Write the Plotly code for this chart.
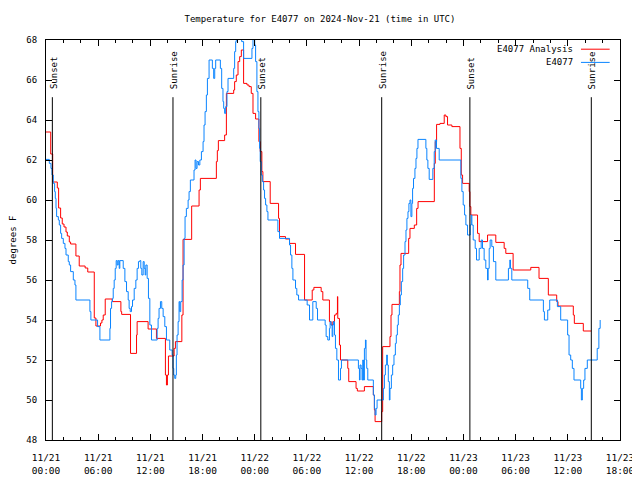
import plotly.graph_objects as go

# ---------------- data ----------------
# hours since 2024-11-21 00:00 UTC, temperatures in degrees F
red_hours = [
    0.0, 0.54, 0.77, 1.3, 1.45, 1.68, 1.87, 2.07, 2.3, 2.45,
    2.68, 2.83, 3.44, 3.82, 4.5, 4.8, 5.55, 5.74, 6.27, 6.43,
    6.58, 6.81, 7.61, 8.61, 8.7, 9.72, 10.41, 10.48, 11.74, 12.7,
    13.73, 13.85, 13.96, 14.08, 14.73, 14.88, 15.62, 15.76, 16.75, 17.6,
    17.75, 19.59, 19.7, 19.82, 20.54, 20.74, 21.58, 21.69, 21.88, 22.08,
    22.27, 22.46, 22.72, 23.11, 23.34, 23.6, 23.8, 24.1, 24.48, 24.63,
    24.82, 24.94, 25.78, 26.74, 26.85, 27.54, 28.0, 28.69, 29.73, 30.61,
    30.8, 31.64, 31.83, 32.59, 32.78, 32.98, 33.17, 33.36, 33.51, 33.55,
    33.74, 33.86, 34.7, 34.81, 35.65, 35.8, 36.61, 37.64, 37.76, 37.84,
    38.6, 38.71, 39.55, 39.67, 39.78, 40.63, 40.7, 40.82, 41.7, 41.85,
    42.35, 42.62, 42.78, 44.65, 44.76, 44.91, 45.3, 45.79, 45.98, 46.17,
    46.67, 47.6, 47.75, 47.9, 48.66, 48.74, 48.85, 49.62, 49.81, 50.77,
    51.72, 52.68, 52.87, 53.71, 55.74, 56.69, 57.76, 58.72, 58.87, 60.63,
    60.75, 61.78, 62.7,
]
red_temps = [
    63.4, 62.3, 60.9, 60.6, 59.6, 59.1, 58.8, 58.65, 58.4, 58.2,
    57.9, 57.8, 57.2, 56.7, 56.6, 56.4, 54.1, 53.7, 53.85, 54.0,
    54.25, 55.05, 54.92, 54.42, 54.28, 52.33, 53.25, 53.92, 53.55, 53.08,
    51.25, 50.75, 51.25, 52.2, 52.58, 52.92, 54.25, 58.03, 59.7, 60.5,
    61.08, 61.92, 62.47, 62.97, 63.25, 65.33, 65.5, 65.92, 66.25, 66.92,
    67.17, 67.5, 65.83, 65.75, 65.67, 65.33, 64.33, 64.05, 62.92, 62.42,
    61.42, 60.92, 59.83, 59.08, 58.17, 58.05, 57.83, 57.28, 55.0, 55.5,
    55.63, 55.42, 55.0, 53.92, 53.75, 53.92, 54.25, 54.33, 55.17, 54.08,
    52.75, 52.0, 51.58, 50.92, 50.58, 50.45, 50.67, 50.25, 49.5, 48.92,
    49.42, 52.67, 53.17, 54.25, 54.78, 55.42, 56.75, 57.33, 58.08, 58.58,
    58.75, 59.58, 59.92, 61.83, 62.92, 63.78, 63.83, 64.25, 64.17, 63.75,
    63.67, 62.58, 61.25, 60.83, 60.42, 59.67, 59.25, 58.33, 57.92, 58.25,
    57.88, 57.58, 57.33, 56.5, 56.63, 56.08, 55.25, 54.92, 54.7, 54.25,
    53.83, 53.45, 53.45,
]

blue_hours = [
    0.0, 0.38, 0.57, 0.69, 0.84, 0.99, 1.07, 1.15, 1.22, 1.42,
    1.53, 1.68, 1.8, 1.99, 2.18, 2.3, 2.56, 2.68, 2.83, 3.14,
    3.33, 3.44, 5.05, 5.16, 5.93, 6.2, 7.35, 7.42, 7.54, 7.65,
    7.73, 7.84, 7.96, 8.07, 8.19, 8.3, 8.42, 8.49, 8.88, 9.07,
    9.26, 9.45, 9.56, 9.68, 9.83, 9.95, 10.14, 10.33, 10.48, 10.63,
    10.79, 10.9, 11.02, 11.17, 11.29, 11.4, 11.48, 11.63, 11.78, 11.94,
    12.13, 12.78, 12.89, 13.0, 13.16, 13.31, 13.47, 13.66, 13.85, 14.23,
    14.5, 14.61, 14.69, 14.8, 14.92, 14.99, 15.07, 15.19, 15.3, 15.38,
    15.49, 15.65, 15.76, 15.88, 15.99, 16.14, 16.34, 16.45, 16.6, 17.02,
    17.14, 17.25, 17.37, 17.54, 17.69, 17.87, 18.06, 18.17, 18.29, 18.44,
    18.56, 18.75, 19.13, 19.28, 19.4, 19.51, 20.05, 20.2, 20.35, 20.43,
    20.54, 20.66, 20.81, 20.93, 21.58, 21.69, 21.81, 21.88, 22.5, 22.72,
    23.68, 23.8, 24.0, 24.1, 24.25, 24.37, 24.48, 24.56, 24.63, 24.75,
    24.87, 25.02, 25.13, 25.25, 25.4, 25.52, 26.66, 26.85, 28.0, 28.12,
    28.27, 28.39, 28.69, 28.84, 29.04, 30.03, 30.3, 30.68, 31.07, 31.22,
    32.1, 32.21, 32.4, 32.59, 32.67, 32.78, 32.9, 32.98, 33.05, 33.17,
    33.28, 33.44, 33.63, 33.86, 33.97, 35.92, 36.04, 36.11, 36.23, 36.34,
    36.42, 36.5, 36.61, 36.73, 36.8, 36.88, 37.0, 37.64, 37.76, 37.84,
    37.95, 38.07, 38.79, 38.91, 39.02, 39.17, 39.25, 39.36, 39.48, 39.55,
    39.71, 39.86, 40.01, 40.17, 40.28, 40.4, 40.51, 40.63, 40.74, 40.86,
    41.01, 41.12, 41.28, 41.39, 41.5, 41.62, 41.73, 41.85, 41.96, 42.07,
    42.15, 42.26, 42.42, 42.54, 42.65, 42.77, 43.68, 43.79, 43.91, 44.06,
    44.48, 44.64, 44.75, 44.9, 45.21, 47.7, 47.82, 47.97, 48.13, 48.28,
    48.47, 48.78, 48.89, 48.97, 49.12, 49.35, 49.5, 49.81, 50.04, 50.19,
    50.38, 50.57, 50.77, 50.84, 50.96, 51.07, 51.26, 51.45, 51.72, 53.17,
    53.33, 53.41, 53.56, 55.39, 55.62, 57.19, 57.31, 57.69, 57.92, 58.8,
    59.18, 59.98, 60.14, 60.33, 60.52, 60.71, 61.48, 61.56, 61.67, 61.82,
    61.97, 62.24, 63.38, 63.57, 63.72,
]
blue_temps = [
    62.03, 61.83, 61.58, 61.25, 60.83, 60.42, 60.08, 59.58, 59.17, 59.0,
    58.75, 58.33, 58.08, 57.83, 57.58, 57.25, 56.92, 56.75, 56.42, 56.0,
    55.75, 55.0, 54.42, 54.0, 53.67, 53.0, 53.58, 54.58, 54.92, 55.08,
    55.58, 56.0, 56.58, 56.97, 56.75, 56.97, 56.58, 56.97, 56.58, 55.92,
    55.42, 55.0, 54.58, 54.42, 54.67, 55.0, 55.58, 56.0, 56.58, 56.92,
    56.97, 56.58, 56.25, 56.92, 56.58, 56.25, 56.75, 56.08, 55.08, 53.75,
    53.0, 53.58, 54.08, 54.58, 54.92, 54.58, 54.17, 53.67, 53.0, 52.5,
    52.25, 51.58, 51.25, 51.08, 51.25, 52.25, 53.25, 53.92, 54.92, 54.42,
    54.92, 56.0, 56.75, 58.08, 59.17, 59.58, 60.0, 60.42, 61.0, 61.5,
    62.0, 61.58, 61.92, 61.75, 62.0, 62.42, 62.92, 63.75, 64.42, 65.25,
    66.08, 67.0, 66.58, 66.08, 66.58, 67.0, 66.58, 65.58, 64.92, 64.58,
    64.33, 64.67, 65.42, 66.08, 66.58, 67.42, 67.92, 68.5, 67.92, 67.08,
    67.58, 68.3, 67.75, 66.92, 65.42, 64.42, 63.58, 62.58, 61.92, 61.25,
    60.92, 60.5, 60.08, 59.75, 59.42, 59.0, 58.42, 58.08, 57.75, 57.25,
    56.58, 56.0, 55.58, 55.25, 55.0, 54.75, 54.0, 54.92, 54.58, 54.0,
    53.75, 53.17, 53.0, 53.58, 53.92, 53.75, 53.17, 53.75, 53.92, 53.25,
    52.58, 52.0, 51.0, 51.58, 52.0, 51.58, 51.0, 51.75, 51.58, 51.0,
    52.0, 51.0, 52.58, 53.0, 52.0, 51.58, 51.0, 50.25, 49.58, 49.25,
    49.58, 50.0, 50.58, 51.25, 51.75, 52.25, 51.75, 50.92, 50.0, 50.58,
    51.25, 51.75, 52.25, 52.83, 53.25, 53.75, 54.25, 54.75, 55.25, 55.92,
    56.58, 57.25, 57.92, 58.5, 59.08, 59.42, 59.83, 60.0, 59.17, 59.83,
    60.58, 61.08, 61.58, 62.08, 62.58, 63.03, 62.58, 62.0, 61.58, 61.03,
    61.58, 62.42, 63.0, 62.58, 62.0, 61.08, 60.42, 59.75, 59.25, 58.75,
    58.25, 58.75, 59.25, 58.75, 58.0, 57.58, 57.0, 57.58, 58.0, 57.58,
    57.0, 56.58, 56.0, 56.58, 57.58, 58.0, 57.67, 56.92, 56.0, 56.58,
    57.0, 56.58, 56.0, 55.58, 55.0, 54.42, 54.0, 54.5, 55.0, 54.67,
    54.0, 53.25, 52.25, 52.0, 51.58, 51.0, 50.58, 50.0, 50.58, 51.0,
    51.58, 52.0, 52.58, 53.58, 54.0,
]

sun_hours = [0.73, 14.6, 24.7, 38.6, 48.74, 62.7]
sun_labels = ["Sunset", "Sunrise", "Sunset", "Sunrise", "Sunset", "Sunrise"]

x_tick_hours = [0, 6, 12, 18, 24, 30, 36, 42, 48, 54, 60, 66]
x_tick_labels = [
    "11/21<br>00:00", "11/21<br>06:00", "11/21<br>12:00", "11/21<br>18:00",
    "11/22<br>00:00", "11/22<br>06:00", "11/22<br>12:00", "11/22<br>18:00",
    "11/23<br>00:00", "11/23<br>06:00", "11/23<br>12:00", "11/23<br>18:00",
]
series_names = ["E4077 Analysis", "E4077"]
series_colors = ["#ff0000", "#0a84ff"]

FONT = "DejaVu Sans Mono"

fig = go.Figure()
fig.add_trace(go.Scatter(x=red_hours, y=red_temps, mode="lines", name=series_names[0],
                         line=dict(color=series_colors[0], width=1, shape="hv"), showlegend=False))
fig.add_trace(go.Scatter(x=blue_hours, y=blue_temps, mode="lines", name=series_names[1],
                         line=dict(color=series_colors[1], width=1, shape="hv"), showlegend=False))

shapes = []
annotations = []
for h, lab in zip(sun_hours, sun_labels):
    shapes.append(dict(type="line", xref="x", yref="paper", x0=h, x1=h, y0=0, y1=0.857,
                       line=dict(color="black", width=1)))
    annotations.append(dict(x=h, y=0.872, xref="x", yref="paper", text=lab, textangle=-90,
                            showarrow=False, xanchor="center", yanchor="bottom", xshift=1,
                            font=dict(family=FONT, size=9, color="black")))

# manual gnuplot-style legend (text then line sample)
leg_y = [0.977, 0.944]
for name, col, yy in zip(series_names, series_colors, leg_y):
    annotations.append(dict(x=0.921, y=yy, xref="paper", yref="paper", text=name,
                            showarrow=False, xanchor="right", yanchor="middle",
                            font=dict(family=FONT, size=9, color="black")))
    shapes.append(dict(type="line", xref="paper", yref="paper", x0=0.932, x1=0.982,
                       y0=yy, y1=yy, line=dict(color=col, width=1)))

# the page body adds an 8px offset; the figure is sized to compensate
fig.update_layout(
    width=632, height=472,
    margin=dict(l=38, r=20, t=32, b=40, autoexpand=False),
    paper_bgcolor="white", plot_bgcolor="white",
    font=dict(family=FONT, size=9, color="black"),
    title=dict(text="Temperature for E4077 on 2024-Nov-21 (time in UTC)", x=(320 - 8) / 632,
               xanchor="center", y=1 - 11 / 472, yanchor="middle",
               font=dict(family=FONT, size=9, color="black")),
    shapes=shapes, annotations=annotations, showlegend=False,
)
fig.update_xaxes(
    range=[0, 66], tickmode="array", tickvals=x_tick_hours, ticktext=x_tick_labels,
    ticks="inside", ticklen=6, tickcolor="black", tickwidth=1,
    showline=True, linecolor="black", linewidth=1, mirror="allticks",
    showgrid=False, zeroline=False, automargin=False, ticklabelstandoff=9,
    minor=dict(tickmode="linear", tick0=0, dtick=2, ticks="inside", ticklen=3, tickcolor="black", showgrid=False),
    tickfont=dict(family=FONT, size=9.5, color="black"),
)
fig.update_yaxes(
    range=[48, 68], tickmode="linear", tick0=48, dtick=2,
    ticks="inside", ticklen=6, tickcolor="black", tickwidth=1,
    showline=True, linecolor="black", linewidth=1, mirror="allticks",
    showgrid=False, zeroline=False, ticklabelstandoff=6, automargin=False,
    title=dict(text="degrees F", standoff=14, font=dict(family=FONT, size=9, color="black")),
    tickfont=dict(family=FONT, size=9, color="black"),
)

fig.write_html("out.html")
